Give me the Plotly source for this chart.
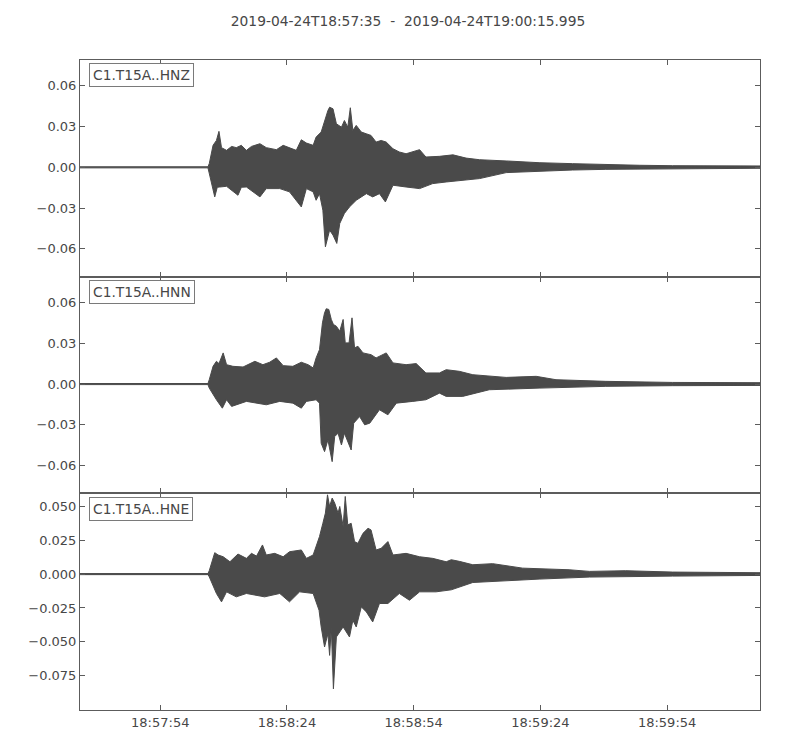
import pandas as pd
import plotly.graph_objects as go
from plotly.subplots import make_subplots

# Seismogram envelopes (seconds after 18:57:35, amplitude)
START = pd.Timestamp("2019-04-24 18:57:35")
END = pd.Timestamp("2019-04-24 19:00:15.995")
TITLE = "2019-04-24T18:57:35  -  2019-04-24T19:00:15.995"
CHANNELS = ["C1.T15A..HNZ", "C1.T15A..HNN", "C1.T15A..HNE"]

# ─── HNZ ───
hnz_t_up = [0, 30.3, 30.6, 31.5, 32.3, 32.9, 33.5, 34.7, 35.9, 37.0, 38.2, 39.4, 40.6, 42.6, 44.1,
            46.5, 48.1, 49.6, 51.2, 52.4, 53.6, 55.2, 55.9, 57.1, 57.9, 58.7, 59.1, 59.9, 60.7,
            61.9, 62.6, 63.4, 64.0, 64.6, 65.4, 66.6, 67.8, 68.9, 70.1, 71.3, 72.5, 74.1, 75.6,
            77.2, 80.4, 81.9, 85.1, 88.3, 91.4, 94.6, 100.9, 108.7, 116.6, 124.5, 132.4, 140.3, 161.0]
hnz_a_up = [0.0004, 0.0004, 0.0027, 0.0162, 0.0198, 0.0265, 0.0145, 0.0125, 0.0154, 0.0145, 0.0162,
            0.0125, 0.0154, 0.0174, 0.0145, 0.013, 0.0162, 0.0145, 0.0125, 0.0203, 0.0179, 0.0162,
            0.0223, 0.026, 0.0345, 0.0419, 0.0443, 0.0431, 0.0321, 0.0296, 0.0345, 0.0296, 0.0439,
            0.0272, 0.0309, 0.026, 0.0247, 0.0235, 0.0186, 0.0198, 0.0186, 0.0137, 0.0113, 0.01,
            0.013, 0.0076, 0.0081, 0.0092, 0.0068, 0.0056, 0.0047, 0.0034, 0.0027, 0.002, 0.0015,
            0.0012, 0.001]
hnz_t_lo = [0, 30.3, 30.6, 31.9, 32.5, 33.1, 34.7, 37.4, 38.2, 39.4, 42.6, 44.1, 47.3, 49.6, 52.4,
            53.6, 55.2, 55.9, 56.7, 57.5, 58.1, 59.1, 59.9, 60.8, 61.5, 62.6, 63.8, 65.4, 67.8,
            69.3, 70.9, 72.3, 74.1, 77.2, 80.4, 83.5, 86.7, 91.4, 94.6, 100.9, 108.7, 116.6,
            124.5, 132.4, 161.0]
hnz_a_lo = [-0.0004, -0.0004, -0.0034, -0.0218, -0.0147, -0.0145, -0.014, -0.0206, -0.0147, -0.0145,
            -0.0218, -0.0157, -0.0157, -0.0181, -0.0292, -0.0157, -0.0181, -0.0243, -0.0194,
            -0.0316, -0.0586, -0.0463, -0.05, -0.0561, -0.0414, -0.034, -0.0292, -0.0243, -0.0194,
            -0.0218, -0.0194, -0.0255, -0.0132, -0.0145, -0.0157, -0.012, -0.0108, -0.0091,
            -0.0083, -0.0039, -0.0027, -0.002, -0.0015, -0.001, -0.0007]

# ─── HNN ───
hnn_t_up = [0, 30.3, 30.6, 31.5, 32.3, 32.9, 33.9, 34.7, 36.2, 38.6, 41.4, 43.3, 44.9, 46.5, 48.1,
            50.4, 52.4, 54.0, 55.2, 55.9, 56.7, 57.4, 57.9, 58.3, 58.9, 59.5, 60.0, 60.7, 61.5,
            62.3, 62.8, 63.7, 64.4, 65.0, 65.8, 67.0, 68.9, 70.1, 72.5, 74.1, 77.2, 79.6, 81.9,
            85.1, 86.7, 89.8, 93.0, 100.9, 108.0, 112.7, 124.5, 140.3, 161.0]
hnn_a_up = [0.0004, 0.0004, 0.0032, 0.0131, 0.0168, 0.0151, 0.023, 0.0143, 0.0131, 0.0126, 0.0168,
            0.0143, 0.0161, 0.0193, 0.0136, 0.0131, 0.0161, 0.0143, 0.0119, 0.0193, 0.0254, 0.0452,
            0.0526, 0.0556, 0.0551, 0.0477, 0.044, 0.0427, 0.039, 0.0477, 0.0304, 0.0304, 0.0489,
            0.0267, 0.0279, 0.023, 0.0217, 0.0193, 0.023, 0.0156, 0.0143, 0.0151, 0.0082, 0.0082,
            0.0106, 0.0094, 0.0069, 0.0049, 0.0057, 0.0032, 0.002, 0.0012, 0.001]
hnn_t_lo = [0, 30.3, 30.6, 32.3, 33.7, 34.7, 35.9, 39.4, 44.1, 47.3, 50.4, 52.4, 53.6, 55.9, 56.7,
            57.1, 57.9, 58.7, 59.7, 60.3, 61.1, 61.9, 62.6, 64.2, 64.8, 66.2, 67.4, 68.6, 70.9,
            72.9, 74.9, 78.8, 81.9, 85.1, 86.7, 90.6, 96.9, 108.7, 124.5, 140.3, 161.0]
hnn_a_lo = [-0.0004, -0.0004, -0.003, -0.0116, -0.0178, -0.0116, -0.0165, -0.0128, -0.0153, -0.0128,
            -0.0141, -0.0178, -0.0128, -0.0116, -0.0141, -0.0437, -0.0499, -0.0412, -0.0573,
            -0.0388, -0.0363, -0.045, -0.0363, -0.0487, -0.0289, -0.024, -0.0301, -0.0289, -0.019,
            -0.0227, -0.0141, -0.0128, -0.0116, -0.0067, -0.0091, -0.0091, -0.0042, -0.003,
            -0.0017, -0.0012, -0.001]

# ─── HNE ───
hne_t_up = [0, 30.3, 30.6, 31.5, 31.9, 32.7, 33.9, 35.5, 37.4, 39.4, 40.6, 41.8, 43.2, 44.1, 46.1,
            48.1, 49.6, 52.4, 53.6, 55.2, 55.9, 56.7, 57.5, 58.1, 58.6, 59.1, 59.7, 60.3, 61.1,
            61.5, 62.3, 62.8, 63.4, 64.2, 65.0, 65.8, 67.0, 68.2, 68.9, 70.1, 71.3, 72.9, 74.1,
            77.2, 80.4, 83.5, 86.7, 87.9, 89.8, 93.0, 97.7, 104.8, 115.8, 120.6, 129.2, 140.3, 161.0]
hne_a_up = [0.0004, 0.0004, 0.0025, 0.0116, 0.0158, 0.0141, 0.0128, 0.0091, 0.0148, 0.0116, 0.0153,
            0.0133, 0.0215, 0.0141, 0.0153, 0.0128, 0.0165, 0.0178, 0.0116, 0.0141, 0.0203, 0.0277,
            0.0375, 0.045, 0.0585, 0.0499, 0.0561, 0.0524, 0.045, 0.0499, 0.0351, 0.0573, 0.0363,
            0.0375, 0.024, 0.0227, 0.0301, 0.0338, 0.0326, 0.0178, 0.019, 0.024, 0.0141, 0.0153,
            0.0128, 0.0116, 0.0091, 0.0106, 0.0094, 0.0069, 0.0077, 0.0044, 0.0032, 0.002, 0.0025,
            0.0015, 0.001]
hne_t_lo = [0, 30.3, 30.6, 32.3, 33.5, 34.7, 37.0, 39.4, 43.7, 47.3, 49.6, 52.0, 55.2, 56.6, 57.1,
            57.9, 58.7, 59.1, 59.5, 60.0, 60.7, 62.3, 63.8, 64.6, 65.4, 66.6, 67.8, 69.3, 70.9,
            72.9, 75.6, 78.0, 80.4, 84.3, 87.9, 93.0, 100.9, 108.7, 120.6, 140.3, 161.0]
hne_a_lo = [-0.0004, -0.0004, -0.002, -0.0143, -0.0205, -0.0131, -0.0168, -0.0143, -0.0168, -0.0143,
            -0.0205, -0.0131, -0.0143, -0.0267, -0.039, -0.0538, -0.044, -0.06, -0.039, -0.0847,
            -0.0464, -0.039, -0.0464, -0.0341, -0.039, -0.0242, -0.0279, -0.0353, -0.0217,
            -0.0217, -0.0143, -0.0193, -0.0131, -0.0131, -0.0116, -0.0062, -0.0047, -0.0037,
            -0.0022, -0.0015, -0.001]

y_ranges = [[-0.0806, 0.0791], [-0.0807, 0.0793], [-0.1003, 0.0596]]
y_ticks = [[-0.06, -0.03, 0.0, 0.03, 0.06], [-0.06, -0.03, 0.0, 0.03, 0.06],
           [-0.075, -0.05, -0.025, 0.0, 0.025, 0.05]]
y_formats = [".2f", ".2f", ".3f"]
x_ticks = ["2019-04-24 18:57:54", "2019-04-24 18:58:24", "2019-04-24 18:58:54",
           "2019-04-24 18:59:24", "2019-04-24 18:59:54"]

TRACE_COLOR = "#4a4a4a"
FRAME_COLOR = "#5c5c5c"
TEXT_COLOR = "#474747"


def to_time(seconds):
    return START + pd.to_timedelta(seconds, unit="s")


envelopes = [
    (hnz_t_up, hnz_a_up, hnz_t_lo, hnz_a_lo),
    (hnn_t_up, hnn_a_up, hnn_t_lo, hnn_a_lo),
    (hne_t_up, hne_a_up, hne_t_lo, hne_a_lo),
]

fig = make_subplots(rows=3, cols=1, shared_xaxes=True, vertical_spacing=0)

for i, (t_up, a_up, t_lo, a_lo) in enumerate(envelopes, start=1):
    # closed polygon: upper envelope forward, lower envelope backward
    xs = list(to_time(t_up)) + list(to_time(t_lo))[::-1]
    ys = list(a_up) + list(a_lo)[::-1]
    fig.add_trace(go.Scatter(
        x=xs, y=ys, mode="lines", fill="toself",
        fillcolor=TRACE_COLOR, line=dict(color=TRACE_COLOR, width=1),
        hoverinfo="skip", showlegend=False,
    ), row=i, col=1)

    fig.update_yaxes(
        range=y_ranges[i - 1], tickvals=y_ticks[i - 1], tickformat=y_formats[i - 1],
        row=i, col=1,
    )
    suffix = "" if i == 1 else str(i)
    fig.add_annotation(
        text=CHANNELS[i - 1], xref=f"x{suffix} domain", yref=f"y{suffix} domain",
        x=0.013, y=0.984, xanchor="left", yanchor="top", showarrow=False,
        font=dict(size=13.8, color=TEXT_COLOR, family="DejaVu Sans"),
        bordercolor="#7a7a7a", borderwidth=1, borderpad=3, bgcolor="white",
    )

fig.update_xaxes(
    range=[START, END], tickvals=x_ticks, tickformat="%H:%M:%S",
    ticks="inside", ticklen=5, tickcolor=FRAME_COLOR, mirror="ticks",
    showline=True, linecolor=FRAME_COLOR, linewidth=1, showgrid=False, zeroline=False,
)
fig.update_yaxes(
    ticks="inside", ticklen=5, tickcolor=FRAME_COLOR, mirror="ticks",
    showline=True, linecolor=FRAME_COLOR, linewidth=1, showgrid=False, zeroline=False,
)

# page body adds an 8px offset, so margins are trimmed by 8 on the left/top
fig.update_layout(
    width=800, height=750,
    margin=dict(l=72, r=48, t=52, b=48),
    paper_bgcolor="white", plot_bgcolor="white",
    font=dict(family="DejaVu Sans", size=13, color=TEXT_COLOR),
    title=dict(text=TITLE, x=0.5, xanchor="center", y=0.983, yanchor="middle",
               font=dict(size=13.8, color=TEXT_COLOR)),
    showlegend=False,
)

fig.write_html("out.html")
